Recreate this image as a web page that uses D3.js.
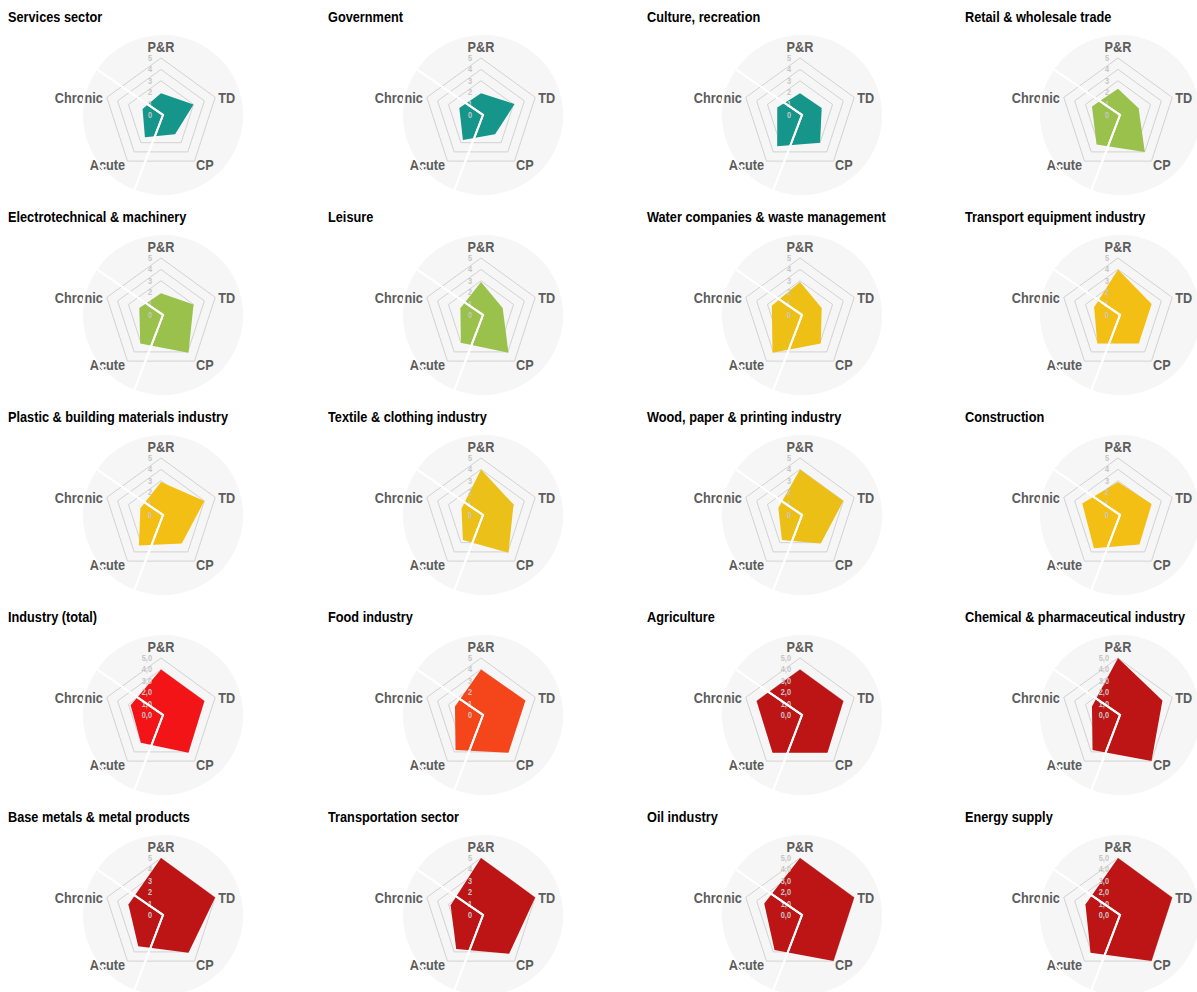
<!DOCTYPE html>
<html>
<head>
<meta charset="utf-8">
<script src="https://cdn.jsdelivr.net/npm/d3@7"></script>
<style>
  html, body { margin: 0; padding: 0; background: #ffffff; }
  svg { display: block; }
  text { font-family: "Liberation Sans", Arial, sans-serif; font-weight: bold; }
</style>
</head>
<body>
<svg id="chart" width="1197" height="992"></svg>
<script>
// ---------------- DATA ----------------
const sectors = [
  "Services sector", "Government", "Culture, recreation", "Retail & wholesale trade",
  "Electrotechnical & machinery", "Leisure", "Water companies & waste management", "Transport equipment industry",
  "Plastic & building materials industry", "Textile & clothing industry", "Wood, paper & printing industry", "Construction",
  "Industry (total)", "Food industry", "Agriculture", "Chemical & pharmaceutical industry",
  "Base metals & metal products", "Transportation sector", "Oil industry", "Energy supply"
];
const axes = ["P&R", "TD", "CP", "Acute", "Chronic"];

// one array per axis, in the order of `sectors`
const valuesPR      = [1.9, 1.9, 1.9, 2.3, 1.9, 2.9, 2.9, 4.0, 2.9, 4.0, 4.0, 2.9, 4.0, 4.0, 4.0, 5.0, 5.0, 5.0, 5.0, 5.0];
const valuesTD      = [3.0, 3.1, 2.0, 1.9, 3.0, 2.0, 2.0, 3.1, 4.0, 3.0, 4.0, 3.1, 4.0, 4.1, 4.0, 4.1, 5.0, 5.0, 5.0, 5.0];
const valuesCP      = [2.1, 2.1, 3.0, 4.0, 4.1, 4.1, 3.1, 3.1, 3.1, 4.1, 3.1, 3.2, 4.1, 4.1, 4.1, 5.0, 4.1, 4.2, 5.0, 5.0];
const valuesAcute   = [2.4, 2.7, 3.4, 3.2, 3.1, 3.0, 4.1, 3.1, 3.3, 2.7, 2.7, 3.6, 3.0, 3.8, 4.1, 3.8, 3.4, 3.7, 3.8, 4.1];
const valuesChronic = [1.7, 2.0, 2.1, 2.4, 2.0, 1.9, 2.6, 2.2, 1.9, 1.8, 2.0, 3.3, 2.8, 2.4, 4.0, 2.4, 3.0, 2.8, 3.3, 3.0];

const sectorColors = [
  "#16968a", "#16968a", "#16968a", "#99c14b",
  "#99c14b", "#99c14b", "#eec016", "#f4bf15",
  "#f4bf15", "#ebc018", "#ecbf17", "#f4bf15",
  "#f31418", "#f4461a", "#bd1515", "#bd1515",
  "#bd1515", "#bd1515", "#bd1515", "#bd1515"
];
// which sectors show decimal tick labels ("5,0")
const decimalTicks = [false,false,false,false, false,false,false,false, false,false,false,false,
                      true,false,true,true, false,false,true,true];
const tickValues = [0, 1, 2, 3, 4, 5];
const tickLabelsInt = ["0", "1", "2", "3", "4", "5"];
const tickLabelsDec = ["0,0", "1,0", "2,0", "3,0", "4,0", "5,0"];
const gridLevels = [3, 4, 5];
// background disc is split in two shares (its white borders show as two radii)
const discShares = [28.8, 71.2];

// ---------------- LAYOUT ----------------
const colX = [0, 320, 639, 957];
const rowY = [0, 200, 400, 600, 800];
const R = 57, discR = 81;
const discStart = 200.9 * Math.PI / 180;
const NARROW = 0.82;        // horizontal squeeze to mimic a narrow typeface
const NARROW_TITLE = 0.91;

const svg = d3.select("#chart");
const r = d3.scaleLinear().domain([0, 5]).range([0, R]);
const angle = d3.scalePoint().domain(axes).range([0, 2 * Math.PI * 4 / 5]);

const pie = d3.pie().sort(null).startAngle(discStart).endAngle(discStart + 2 * Math.PI);
const arc = d3.arc().innerRadius(0).outerRadius(discR);
const radial = d3.lineRadial().curve(d3.curveLinearClosed)
  .angle(d => angle(d.axis)).radius(d => r(d.value));

const labelPos = {
  "P&R":     {anchor: "middle", dx: 0,    dy: -6},
  "TD":      {anchor: "start",  dx: 3,    dy: 5.5},
  "CP":      {anchor: "start",  dx: 1.5,  dy: 9},
  "Acute":   {anchor: "end",    dx: -2.5, dy: 9},
  "Chronic": {anchor: "end",    dx: -4,   dy: 5.5}
};

function vertex(axis, v) {
  const a = angle(axis);
  return [Math.sin(a) * r(v), -Math.cos(a) * r(v)];
}
function narrowAt(x, y, s = NARROW) { return `translate(${x},${y}) scale(${s},1)`; }

sectors.forEach((name, i) => {
  const ox = colX[i % 4], oy = rowY[Math.floor(i / 4)];
  const cell = svg.append("g").attr("transform", `translate(${ox},${oy})`);

  cell.append("text")
    .attr("transform", narrowAt(8, 22, NARROW_TITLE))
    .attr("font-size", 14).attr("fill", "#000")
    .text(name);

  const cx = 161, cy = 115;
  const disc = cell.append("g").attr("transform", `translate(${cx + 2},${cy})`);
  const slices = pie(discShares);
  disc.selectAll("path").data(slices).join("path")
    .attr("d", arc).attr("fill", "#f6f6f6").attr("stroke", "none");

  const g = cell.append("g").attr("transform", `translate(${cx},${cy})`);

  // grid rings
  g.selectAll("path.ring").data(gridLevels).join("path").attr("class", "ring")
    .attr("d", lv => radial(axes.map(a => ({axis: a, value: lv}))))
    .attr("fill", "none").attr("stroke", "#d2d2d2").attr("stroke-width", 1);

  // data polygon
  const vals = [valuesPR[i], valuesTD[i], valuesCP[i], valuesAcute[i], valuesChronic[i]];
  const pts = axes.map((a, k) => ({axis: a, value: vals[k]}));
  g.append("path").attr("d", radial(pts)).attr("fill", sectorColors[i]).attr("stroke", "none");

  // tick labels
  const tl = decimalTicks[i] ? tickLabelsDec : tickLabelsInt;
  g.selectAll("text.tick").data(tickValues).join("text").attr("class", "tick")
    .attr("transform", v => narrowAt(-9, -r(v) + 3))
    .attr("text-anchor", "end").attr("font-size", 9)
    .attr("fill", "#c6c6c6")
    .text((v, k) => tl[k]);

  // axis labels
  g.selectAll("text.axis").data(axes).join("text").attr("class", "axis")
    .attr("transform", a => narrowAt(vertex(a, 5)[0] + labelPos[a].dx, vertex(a, 5)[1] + labelPos[a].dy))
    .attr("text-anchor", a => labelPos[a].anchor)
    .attr("font-size", 15.5).attr("fill", "#5c5c5c")
    .text(a => a);

  // white borders of the background disc, drawn on top
  const top = cell.append("g").attr("transform", `translate(${cx + 2},${cy})`);
  top.selectAll("path").data(slices).join("path")
    .attr("d", arc).attr("fill", "none").attr("stroke", "#ffffff").attr("stroke-width", 2);
});
</script>
</body>
</html>
